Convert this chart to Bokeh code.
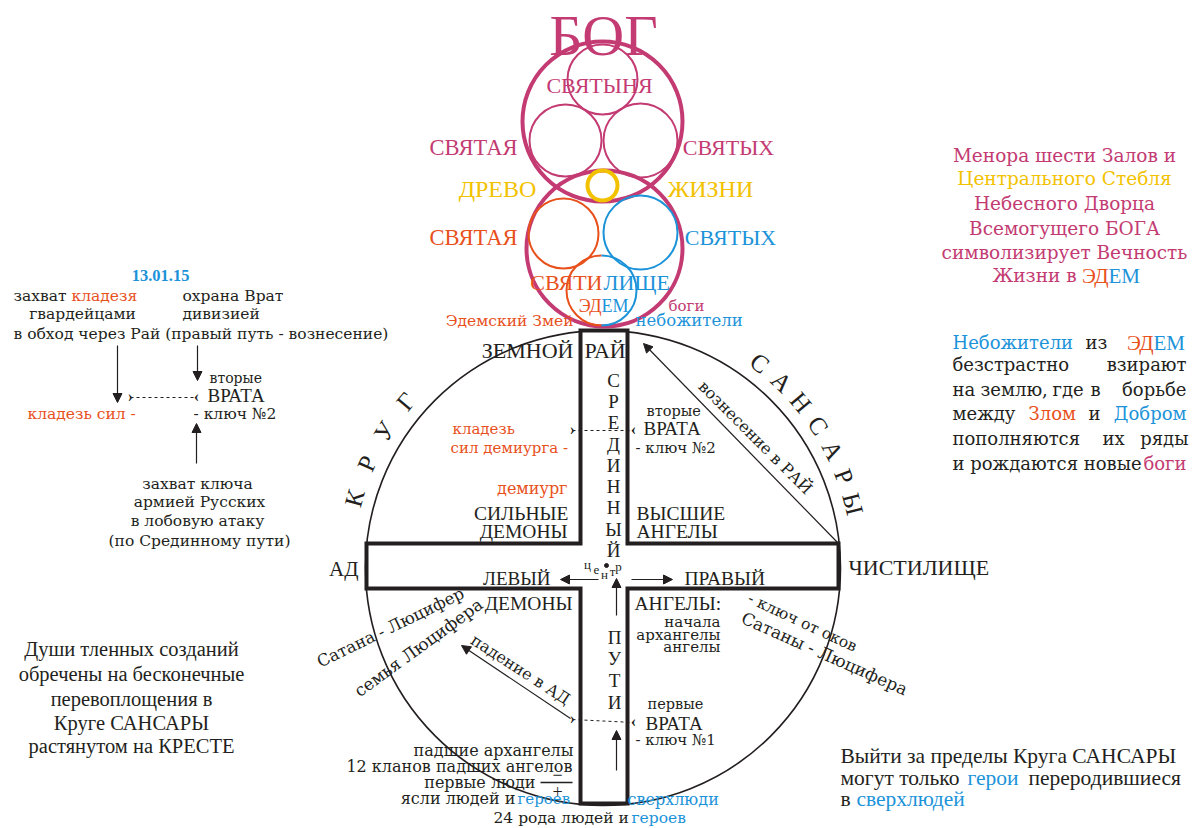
import math
from bokeh.plotting import figure
from bokeh.models import Range1d, ColumnDataSource, Arrow, NormalHead
from bokeh.embed import file_html
from bokeh.resources import INLINE

FONTS = {"L": "Liberation Serif", "D": "DejaVu Serif"}
COL = {"M": "#c33b72", "Y": "#f2c200", "O": "#e8501c", "B": "#1c93d9", "K": "#231f20"}

# ---------------- data ----------------
# heavenly palace circles: x, y, r, colour, width
HALL_X = [602, 604, 602, 565, 640, 602, 563, 640]
HALL_Y = [121, 248, 79, 140, 140, 185, 233, 232]
HALL_R = [80, 78, 35, 36, 37, 15, 35, 37]
HALL_C = ["M", "M", "M", "M", "M", "Y", "O", "B"]
HALL_W = [4, 4, 2, 2, 2, 4, 2, 2]
EDEN_X, EDEN_Y, EDEN_R = 601, 290, 35

# circle of samsara and the cross
SAMSARA = (602.5, 567.5, 237.5)
CROSS_X = [580, 627, 627, 838, 838, 627, 627, 580, 580, 366, 366, 580]
CROSS_Y = [330, 330, 543, 543, 588, 588, 803, 803, 588, 588, 543, 543]

ARC_WORD_1 = list("КРУГ")
ARC_ANG_1 = [164.3, 156.1, 148.0, 139.8]
ARC_WORD_2 = list("САНСАРЫ")
ARC_ANG_2 = [52.6, 46.2, 39.9, 33.5, 27.1, 20.8, 14.4]
ARC_RADIUS = 258

MID_WORD = list("СРЕДИННЫЙ")
MID_Y = [380, 401, 422, 444, 465, 486, 507, 529, 550]
PATH_WORD = list("ПУТИ")
PATH_Y = [637, 658, 680, 702]
CENTER_WORD = list("центр")
CENTER_X = [587, 596, 604, 612, 618]
CENTER_Y = [564, 569, 574, 571, 566]

ARROWS = [(117, 345, 117, 402), (197, 345, 197, 380), (196, 463, 196, 423),
          (598, 579, 560, 579), (631, 579, 672, 579), (616, 615, 616, 578),
          (616, 770, 616, 730), (838, 543, 643, 343), (570, 718, 461, 645)]
DOTTED = [(130, 397, 196, 397), (572, 430, 633, 430), (572, 719, 633, 722)]

# texts: (text, x, y, colour, align, size px, angle deg, font)
TOP_TEXT = [
    ("БОГ", 603, 35, "M", "center", 58, 0, "L"),
    ("СВЯТЫНЯ", 599, 85, "M", "center", 22, 0, "L"),
    ("СВЯТАЯ", 473, 147, "M", "center", 22.5, 0, "L"),
    ("СВЯТЫХ", 728, 147, "M", "center", 22, 0, "L"),
    ("ДРЕВО", 497, 188, "Y", "center", 24, 0, "L"),
    ("ЖИЗНИ", 710, 188, "Y", "center", 24, 0, "L"),
    ("СВЯТАЯ", 473, 237, "O", "center", 22.5, 0, "L"),
    ("СВЯТЫХ", 730, 237, "B", "center", 22, 0, "L"),
    ("СВЯТИ", 602, 282, "O", "right", 22, 0, "L"),
    ("ЛИЩЕ", 603, 282, "B", "left", 22, 0, "L"),
    ("ЭД", 601, 305, "O", "right", 18, 0, "L"),
    ("ЕМ", 601, 305, "B", "left", 18, 0, "L"),
    ("Эдемский Змей", 573, 320, "O", "right", 15.5, 0, "D"),
    ("боги", 668, 305, "M", "left", 15, 0, "D"),
    ("небожители", 635, 320, "B", "left", 16.5, 0, "D"),
]
LEFT_TEXT = [
    ("13.01.15", 160, 275, "B", "center", 16.5, 0, "LB"),
    ("захват", 13, 295, "K", "left", 15.5, 0, "D"),
    ("кладезя", 71, 295, "O", "left", 15.5, 0, "D"),
    ("гвардейцами", 82, 313, "K", "center", 15.5, 0, "D"),
    ("в обход через Рай (правый путь - вознесение)", 13, 333, "K", "left", 15.5, 0, "D"),
    ("охрана Врат", 182, 295, "K", "left", 15.5, 0, "D"),
    ("дивизией", 182, 313, "K", "left", 15.5, 0, "D"),
    ("вторые", 209, 377, "K", "left", 14, 0, "D"),
    ("ВРАТА", 207, 395, "K", "left", 19, 0, "L"),
    ("- ключ №2", 193, 413, "K", "left", 15.5, 0, "D"),
    ("кладезь сил -", 27, 413, "O", "left", 15.5, 0, "D"),
    ("захват ключа", 197, 483, "K", "center", 15.5, 0, "D"),
    ("армией Русских", 199, 501, "K", "center", 15.5, 0, "D"),
    ("в лобовую атаку", 197, 520, "K", "center", 15.5, 0, "D"),
    ("(по Срединному пути)", 199, 540, "K", "center", 15.5, 0, "D"),
]
CROSS_TEXT = [
    ("ЗЕМНОЙ", 573, 350, "K", "right", 22, 0, "L"),
    ("РАЙ", 584, 350, "K", "left", 22, 0, "L"),
    ("кладезь", 452, 428, "O", "left", 15, 0, "D"),
    ("сил демиурга -", 450, 447, "O", "left", 15, 0, "D"),
    ("вторые", 646, 410, "K", "left", 14.5, 0, "D"),
    ("ВРАТА", 643, 428, "K", "left", 19, 0, "L"),
    ("- ключ №2", 635, 447, "K", "left", 15, 0, "D"),
    ("демиург", 567, 488, "O", "right", 16, 0, "D"),
    ("СИЛЬНЫЕ", 568, 513, "K", "right", 19.5, 0, "L"),
    ("ДЕМОНЫ", 567, 531, "K", "right", 19.5, 0, "L"),
    ("ВЫСШИЕ", 636, 513, "K", "left", 19.5, 0, "L"),
    ("АНГЕЛЫ", 636, 531, "K", "left", 19.5, 0, "L"),
    ("АД", 358, 568, "K", "right", 21, 0, "L"),
    ("ЧИСТИЛИЩЕ", 848, 567, "K", "left", 22, 0, "L"),
    ("ЛЕВЫЙ", 550, 578, "K", "right", 19, 0, "L"),
    ("ПРАВЫЙ", 684, 578, "K", "left", 19.5, 0, "L"),
    ("ДЕМОНЫ", 572, 603, "K", "right", 19.5, 0, "L"),
    ("АНГЕЛЫ:", 634, 603, "K", "left", 19.5, 0, "L"),
    ("начала", 720, 621, "K", "right", 15, 0, "D"),
    ("архангелы", 720, 634, "K", "right", 15, 0, "D"),
    ("ангелы", 720, 646, "K", "right", 15, 0, "D"),
    ("первые", 647, 703, "K", "left", 14.5, 0, "D"),
    ("ВРАТА", 645, 723, "K", "left", 19, 0, "L"),
    ("- ключ №1", 635, 739, "K", "left", 15, 0, "D"),
    ("падшие архангелы", 573, 750, "K", "right", 16, 0, "D"),
    ("12 кланов падших ангелов", 572, 766, "K", "right", 16, 0, "D"),
    ("первые люди", 535, 782, "K", "right", 16, 0, "D"),
    ("ясли людей и", 515, 798, "K", "right", 16, 0, "D"),
    ("героев", 517, 798, "B", "left", 15, 0, "D"),
    ("сверхлюди", 627, 799, "B", "left", 16, 0, "D"),
    ("24 рода людей и", 493, 817, "K", "left", 15.5, 0, "D"),
    ("героев", 631, 817, "B", "left", 15.5, 0, "D"),
    ("вознесение в РАЙ", 755, 437, "K", "center", 16, -45, "D"),
    ("падение в АД", 520, 669, "K", "center", 16, -33, "D"),
    ("Сатана - Люцифер", 390, 627, "K", "center", 16.5, 26, "D"),
    ("семья Люцифера", 418, 647, "K", "center", 17, 36, "D"),
    ("- ключ от оков", 802, 622, "K", "center", 15.5, -25, "D"),
    ("Сатаны - Люцифера", 824, 653, "K", "center", 17, -24, "D"),
    ("−", 557, 774, "K", "center", 18, 0, "L"),
    ("+", 557, 791, "K", "center", 18, 0, "L"),
]
MENORA_LINES = ["Менора шести Залов и", "Центрального Стебля", "Небесного Дворца",
                "Всемогущего БОГА", "символизирует Вечность"]
MENORA_COLS = ["M", "Y", "M", "M", "M"]
MENORA_Y = [155, 178, 203, 228, 252]
RIGHT_TEXT = [
    ("Жизни в", 992, 275, "M", "left", 18.5, 0, "D"),
    ("ЭД", 1108, 275, "O", "right", 21, 0, "L"),
    ("ЕМ", 1108, 275, "B", "left", 21, 0, "L"),
    ("Небожители", 952, 342, "B", "left", 18, 0, "D"),
    ("из", 1085, 342, "K", "left", 18, 0, "D"),
    ("ЭД", 1153, 342, "O", "right", 21, 0, "L"),
    ("ЕМ", 1153, 342, "B", "left", 21, 0, "L"),
    ("безстрастно", 952, 364, "K", "left", 18, 0, "D"),
    ("взирают", 1186, 364, "K", "right", 18, 0, "D"),
    ("на", 952, 389, "K", "left", 18, 0, "D"),
    ("землю,", 980, 389, "K", "left", 18, 0, "D"),
    ("где", 1052, 389, "K", "left", 18, 0, "D"),
    ("в", 1090, 389, "K", "left", 18, 0, "D"),
    ("борьбе", 1186, 389, "K", "right", 18, 0, "D"),
    ("между", 952, 413, "K", "left", 18, 0, "D"),
    ("Злом", 1028, 413, "O", "left", 18, 0, "D"),
    ("и", 1088, 413, "K", "left", 18, 0, "D"),
    ("Добром", 1186, 413, "B", "right", 18, 0, "D"),
    ("пополняются", 952, 438, "K", "left", 18, 0, "D"),
    ("их", 1102, 438, "K", "left", 18, 0, "D"),
    ("ряды", 1188, 438, "K", "right", 18, 0, "D"),
    ("и рождаются новые", 952, 463, "K", "left", 18, 0, "D"),
    ("боги", 1186, 463, "M", "right", 18, 0, "D"),
]
SOUL_LINES = ["Души тленных созданий", "обречены на бесконечные", "перевоплощения в",
              "Круге САНСАРЫ", "растянутом на КРЕСТЕ"]
SOUL_Y = [648, 673, 698, 722, 745]
EXIT_TEXT = [
    ("Выйти за пределы Круга САНСАРЫ", 840, 755, "K", "left", 21.5, 0, "L"),
    ("могут только", 840, 777, "K", "left", 21.5, 0, "L"),
    ("герои", 967, 777, "B", "left", 21.5, 0, "L"),
    ("переродившиеся", 1028, 777, "K", "left", 21.5, 0, "L"),
    ("в", 840, 798, "K", "left", 21.5, 0, "L"),
    ("сверхлюдей", 856, 798, "B", "left", 21.5, 0, "L"),
]

# ---------------- drawing ----------------
p = figure(width=1199, height=828, x_range=Range1d(0, 1199), y_range=Range1d(828, 0),
           x_axis_type=None, y_axis_type=None, output_backend="svg",
           toolbar_location=None, min_border=0)
p.grid.visible = False
p.outline_line_color = None
p.background_fill_color = "white"


def add_text(items):
    def font_of(t):
        return FONTS[t[7][0]] if len(t) > 7 else FONTS["L"]

    def style_of(t):
        return "bold" if len(t) > 7 and t[7].endswith("B") else "normal"

    src = ColumnDataSource(dict(
        text=[t[0] for t in items], x=[t[1] for t in items], y=[t[2] for t in items],
        color=[COL[t[3]] for t in items], align=[t[4] for t in items],
        size=["%gpx" % t[5] for t in items], angle=[t[6] for t in items],
        font=[font_of(t) for t in items], style=[style_of(t) for t in items]))
    p.text(x="x", y="y", text="text", source=src, text_color="color",
           text_align="align", text_font_size="size", angle="angle",
           angle_units="deg", text_baseline="middle", text_font="font",
           text_font_style="style")


# samsara circle and cross
cx, cy, cr = SAMSARA
p.circle(x=[cx], y=[cy], radius=cr, fill_alpha=0, line_color=COL["K"], line_width=1.6)
p.patch(CROSS_X, CROSS_Y, fill_color="white", line_color=COL["K"], line_width=4,
        line_join="miter")

# palace circles
p.circle(x=HALL_X, y=HALL_Y, radius=HALL_R, fill_alpha=0,
         line_color=[COL[c] for c in HALL_C], line_width=HALL_W)
p.arc(x=[EDEN_X], y=[EDEN_Y], radius=EDEN_R, start_angle=math.pi / 2,
      end_angle=3 * math.pi / 2, line_color=COL["O"], line_width=2)
p.arc(x=[EDEN_X], y=[EDEN_Y], radius=EDEN_R, start_angle=-math.pi / 2,
      end_angle=math.pi / 2, line_color=COL["B"], line_width=2)

# arrows
for x0, y0, x1, y1 in ARROWS:
    p.add_layout(Arrow(x_start=x0, y_start=y0, x_end=x1, y_end=y1, line_width=1.2,
                       line_color=COL["K"],
                       end=NormalHead(size=9, fill_color=COL["K"], line_color=COL["K"])))
for x0, y0, x1, y1 in DOTTED:
    p.line([x0, x1], [y0, y1], line_dash="3 3", line_color=COL["K"], line_width=1)
chev = []
for x0, y0, x1, y1 in DOTTED:
    chev.append(("›", x0, y0 - 1, "K", "center", 16, 0, "LB"))
    chev.append(("‹", x1, y1 - 1, "K", "center", 16, 0, "LB"))
add_text(chev)

# fraction line near "первые люди"
p.line([540, 572], [782, 782], line_color=COL["K"], line_width=1.6)
# centre dot
p.scatter(x=[606], y=[565], size=4, color=COL["K"])

# arc lettering
arc_items = []
for letters, angs in ((ARC_WORD_1, ARC_ANG_1), (ARC_WORD_2, ARC_ANG_2)):
    for ch, a in zip(letters, angs):
        r = math.radians(a)
        arc_items.append((ch, cx + ARC_RADIUS * math.cos(r), cy - ARC_RADIUS * math.sin(r),
                          "K", "center", 25, a - 90, "L"))
add_text(arc_items)

vert = [(ch, 613, y, "K", "center", 19, 0, "L") for ch, y in zip(MID_WORD, MID_Y)]
vert += [(ch, 614, y, "K", "center", 19, 0, "L") for ch, y in zip(PATH_WORD, PATH_Y)]
vert += [(ch, x, y, "K", "center", 13, 0, "L") for ch, x, y in zip(CENTER_WORD, CENTER_X, CENTER_Y)]
add_text(vert)

add_text(TOP_TEXT)
add_text(LEFT_TEXT)
add_text(CROSS_TEXT)
add_text([(t, 1064, y, c, "center", 18.5, 0, "D") for t, c, y in zip(MENORA_LINES, MENORA_COLS, MENORA_Y)])
add_text(RIGHT_TEXT)
add_text([(t, 131, y, "K", "center", 20.5, 0, "L") for t, y in zip(SOUL_LINES, SOUL_Y)])
add_text(EXIT_TEXT)

open("out.html", "w").write(file_html(p, INLINE))
